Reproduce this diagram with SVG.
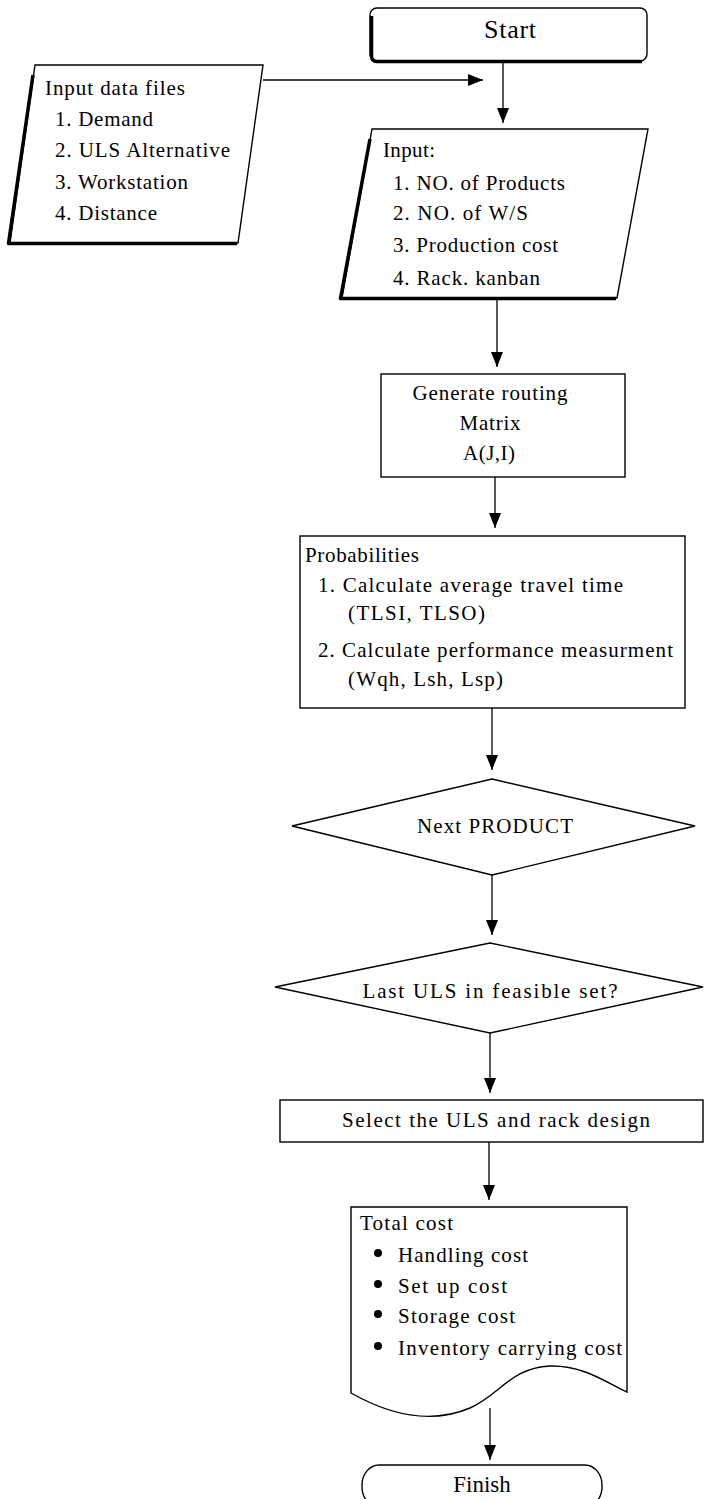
<svg xmlns="http://www.w3.org/2000/svg" width="704" height="1499" viewBox="0 0 704 1499">
<style>
  .box { fill: #ffffff; stroke: #000000; stroke-width: 1.4; }
  .shadow { fill: none; stroke: #000000; stroke-width: 3.5; stroke-linejoin: round; }
  .t { font-family: "Liberation Serif", "DejaVu Serif", "Times New Roman", serif; font-size: 21px; fill: #000000; }
  .c { text-anchor: middle; }
  .big { font-size: 26px; }
  .fin { font-size: 23px; }
  .conn { stroke: #000000; stroke-width: 1.3; fill: none; }
</style>
<defs>
  <marker id="arrow" markerUnits="userSpaceOnUse" markerWidth="15" markerHeight="12" refX="15" refY="6" orient="auto">
    <path d="M0,0 L15,6 L0,12 z" fill="#000000"/>
  </marker>
</defs>
<rect x="0" y="0" width="704" height="1499" fill="#ffffff"/>

<g id="connectors">
  <line class="conn" x1="503" y1="61" x2="503" y2="123" marker-end="url(#arrow)"/>
  <line class="conn" x1="263" y1="80" x2="483" y2="80" marker-end="url(#arrow)"/>
  <line class="conn" x1="497" y1="298" x2="497" y2="367" marker-end="url(#arrow)"/>
  <line class="conn" x1="495" y1="477" x2="495" y2="528" marker-end="url(#arrow)"/>
  <line class="conn" x1="492" y1="708" x2="492" y2="770" marker-end="url(#arrow)"/>
  <line class="conn" x1="492" y1="875" x2="492" y2="935" marker-end="url(#arrow)"/>
  <line class="conn" x1="490" y1="1033" x2="490" y2="1093" marker-end="url(#arrow)"/>
  <line class="conn" x1="489" y1="1142" x2="489" y2="1200" marker-end="url(#arrow)"/>
  <line class="conn" x1="490" y1="1408" x2="490" y2="1460" marker-end="url(#arrow)"/>
</g>

<g id="start">
  <rect class="box" x="370" y="8" width="277" height="53" rx="7"/>
  <path class="shadow" d="M371.5,16 V56 Q371.5,61.5 377,61.5 H642"/>
  <text class="t c big" x="510" y="38" textLength="52" lengthAdjust="spacing">Start</text>
</g>

<g id="input-data-files">
  <polygon class="box" points="35,65 263,65 238,243 10,243"/>
  <path class="shadow" d="M33,75 L8.5,243.5 H237"/>
  <text class="t" x="45" y="95" textLength="140" lengthAdjust="spacing">Input data files</text>
  <text class="t" x="55" y="126" textLength="98" lengthAdjust="spacing">1. Demand</text>
  <text class="t" x="55" y="157" textLength="175" lengthAdjust="spacing">2. ULS Alternative</text>
  <text class="t" x="55" y="189" textLength="133" lengthAdjust="spacing">3. Workstation</text>
  <text class="t" x="55" y="220" textLength="102" lengthAdjust="spacing">4. Distance</text>
</g>

<g id="input">
  <polygon class="box" points="372,129 648,129 617,298 342,298"/>
  <path class="shadow" d="M370,139 L340.5,298.5 H616"/>
  <text class="t" x="383" y="157" textLength="52" lengthAdjust="spacing">Input:</text>
  <text class="t" x="393" y="190" textLength="172" lengthAdjust="spacing">1. NO. of Products</text>
  <text class="t" x="393" y="220" textLength="135" lengthAdjust="spacing">2. NO. of W/S</text>
  <text class="t" x="393" y="252" textLength="165" lengthAdjust="spacing">3. Production cost</text>
  <text class="t" x="393" y="285" textLength="147" lengthAdjust="spacing">4. Rack. kanban</text>
</g>

<g id="generate-routing">
  <rect class="box" x="381" y="374" width="244" height="103"/>
  <text class="t c" x="490" y="400" textLength="155" lengthAdjust="spacing">Generate routing</text>
  <text class="t c" x="490" y="430" textLength="61" lengthAdjust="spacing">Matrix</text>
  <text class="t c" x="489" y="460" textLength="52" lengthAdjust="spacing">A(J,I)</text>
</g>

<g id="probabilities">
  <rect class="box" x="300" y="536" width="385" height="172"/>
  <text class="t" x="305" y="562" textLength="114" lengthAdjust="spacing">Probabilities</text>
  <text class="t" x="318" y="592" textLength="305" lengthAdjust="spacing">1. Calculate average travel time</text>
  <text class="t" x="348" y="620" textLength="137" lengthAdjust="spacing">(TLSI, TLSO)</text>
  <text class="t" x="318" y="657" textLength="355" lengthAdjust="spacing">2. Calculate performance measurment</text>
  <text class="t" x="348" y="686" textLength="155" lengthAdjust="spacing">(Wqh, Lsh, Lsp)</text>
</g>

<g id="next-product">
  <polygon class="box" points="492,779 695,826 492,875 292,826"/>
  <text class="t c" x="495" y="833" textLength="156" lengthAdjust="spacing">Next PRODUCT</text>
</g>

<g id="last-uls">
  <polygon class="box" points="490,943 703,987 490,1033 275,987"/>
  <text class="t c" x="490" y="998" textLength="255" lengthAdjust="spacing">Last ULS in feasible set?</text>
</g>

<g id="select">
  <rect class="box" x="280" y="1100" width="423" height="42"/>
  <text class="t" x="342" y="1127" textLength="308" lengthAdjust="spacing">Select the ULS and rack design</text>
</g>

<g id="total-cost">
  <path class="box" d="M351,1207 H627 V1392 C610,1385 585,1365 550,1366 C510,1368 500,1395 470,1408 C430,1425 390,1415 351,1393 Z"/>
  <text class="t" x="360" y="1230" textLength="93" lengthAdjust="spacing">Total cost</text>
  <circle cx="378" cy="1253" r="4"/>
  <text class="t" x="398" y="1262" textLength="130" lengthAdjust="spacing">Handling cost</text>
  <circle cx="378" cy="1284" r="4"/>
  <text class="t" x="398" y="1293" textLength="109" lengthAdjust="spacing">Set up cost</text>
  <circle cx="378" cy="1314" r="4"/>
  <text class="t" x="398" y="1323" textLength="117" lengthAdjust="spacing">Storage cost</text>
  <circle cx="378" cy="1346" r="4"/>
  <text class="t" x="398" y="1355" textLength="224" lengthAdjust="spacing">Inventory carrying cost</text>
</g>

<g id="finish">
  <rect class="box" x="362" y="1465" width="240" height="42" rx="17" ry="20"/>
  <text class="t c fin" x="482" y="1492">Finish</text>
</g>
</svg>
